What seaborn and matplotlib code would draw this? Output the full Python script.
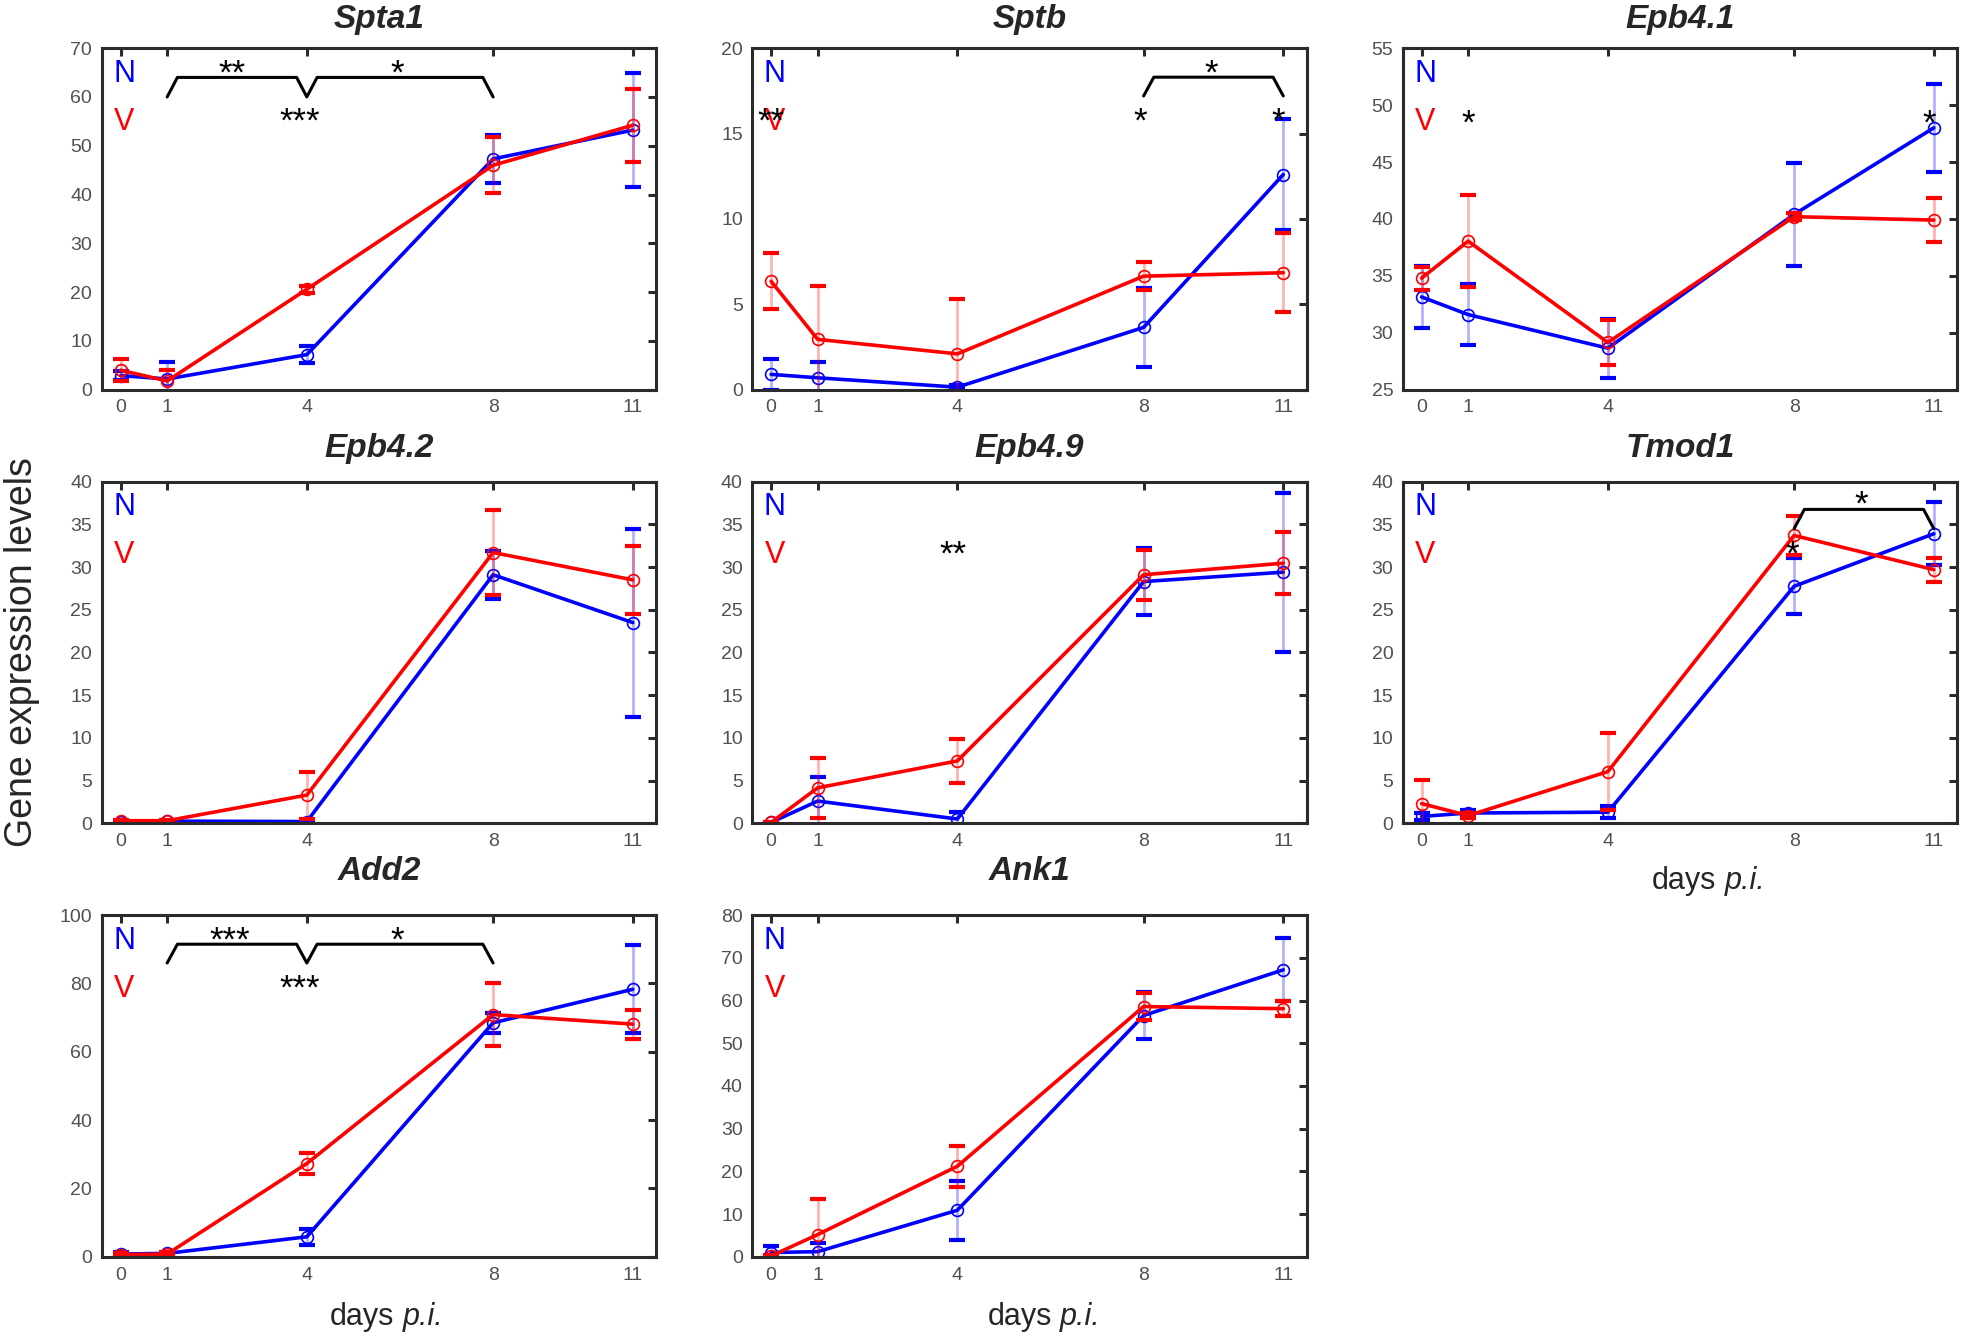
import numpy as np
import pandas as pd
import matplotlib
matplotlib.use('Agg')
import matplotlib.pyplot as plt
import seaborn as sns

# ---------- data ----------
days = [0, 1, 4, 8, 11]

spta1_n = [2.9, 2.2, 7.2, 47.3, 53.2]
spta1_n_err = [1.0, 3.5, 1.7, 4.9, 11.7]
spta1_v = [4.0, 1.8, 20.6, 46.0, 54.2]
spta1_v_err = [2.3, 2.3, 0.7, 5.7, 7.5]

sptb_n = [0.9, 0.7, 0.15, 3.65, 12.6]
sptb_n_err = [0.9, 0.9, 0.1, 2.3, 3.25]
sptb_v = [6.35, 2.95, 2.1, 6.65, 6.85]
sptb_v_err = [1.65, 3.1, 3.2, 0.8, 2.3]

epb41_n = [33.15, 31.6, 28.65, 40.4, 48.0]
epb41_n_err = [2.7, 2.65, 2.6, 4.5, 3.85]
epb41_v = [34.8, 38.05, 29.15, 40.2, 39.9]
epb41_v_err = [1.0, 4.05, 2.0, 0.3, 1.95]

epb42_n = [0.2, 0.25, 0.2, 29.1, 23.5]
epb42_n_err = [0.1, 0.1, 0.1, 2.8, 11.0]
epb42_v = [0.3, 0.3, 3.3, 31.7, 28.5]
epb42_v_err = [0.1, 0.1, 2.75, 5.0, 4.0]

epb49_n = [0.1, 2.6, 0.5, 28.3, 29.4]
epb49_n_err = [0.1, 2.8, 0.8, 3.9, 9.3]
epb49_v = [0.1, 4.15, 7.3, 29.1, 30.45]
epb49_v_err = [0.1, 3.5, 2.6, 2.9, 3.6]

tmod1_n = [0.8, 1.2, 1.3, 27.75, 33.9]
tmod1_n_err = [0.4, 0.3, 0.7, 3.3, 3.7]
tmod1_v = [2.3, 0.9, 6.05, 33.7, 29.7]
tmod1_v_err = [2.75, 0.3, 4.5, 2.3, 1.4]

add2_n = [0.8, 1.0, 5.85, 68.5, 78.3]
add2_n_err = [0.5, 0.5, 2.3, 2.9, 12.9]
add2_v = [0.6, 0.8, 27.3, 70.9, 68.1]
add2_v_err = [0.5, 0.5, 3.0, 9.3, 4.25]

ank1_n = [1.0, 1.2, 10.9, 56.5, 67.2]
ank1_n_err = [1.6, 2.1, 6.9, 5.4, 7.4]
ank1_v = [0.2, 5.2, 21.2, 58.6, 58.1]
ank1_v_err = [0.2, 8.4, 4.8, 3.1, 1.75]

genes = ['Spta1', 'Sptb', 'Epb4.1', 'Epb4.2', 'Epb4.9', 'Tmod1', 'Add2', 'Ank1']
n_vals = [spta1_n, sptb_n, epb41_n, epb42_n, epb49_n, tmod1_n, add2_n, ank1_n]
n_errs = [spta1_n_err, sptb_n_err, epb41_n_err, epb42_n_err, epb49_n_err, tmod1_n_err, add2_n_err, ank1_n_err]
v_vals = [spta1_v, sptb_v, epb41_v, epb42_v, epb49_v, tmod1_v, add2_v, ank1_v]
v_errs = [spta1_v_err, sptb_v_err, epb41_v_err, epb42_v_err, epb49_v_err, tmod1_v_err, add2_v_err, ank1_v_err]

y_limits = [(0, 70), (0, 20), (25, 55), (0, 40), (0, 40), (0, 40), (0, 100), (0, 80)]
y_steps = [10, 5, 5, 5, 5, 5, 20, 10]

# significance marks: (text, day, level)
stars = {
    'Spta1': [('**', 2.4, 66.8), ('*', 5.95, 66.8), ('***', 3.85, 57.0)],
    'Sptb': [('**', 0.0, 16.3), ('*', 7.93, 16.3), ('*', 10.9, 16.3), ('*', 9.45, 19.1)],
    'Epb4.1': [('*', 1.0, 49.3), ('*', 10.9, 49.3)],
    'Epb4.9': [('**', 3.9, 32.6)],
    'Tmod1': [('*', 9.45, 38.5), ('*', 7.95, 32.7)],
    'Add2': [('***', 2.35, 95.6), ('*', 5.95, 95.6), ('***', 3.85, 81.5)],
}
# brackets: (days joined, low level, high level)
brackets = {
    'Spta1': ([1, 4, 8], 60.0, 64.0),
    'Sptb': ([8, 11], 17.2, 18.3),
    'Tmod1': ([8, 11], 34.5, 36.75),
    'Add2': ([1, 4, 8], 86.0, 91.5),
}
# panels carrying the "days p.i." label: anchor (axes fraction) where "days" ends
xlabel_pos = {'Tmod1': (0.565, -0.192), 'Add2': (0.528, -0.201), 'Ank1': (0.54, -0.201)}
title_pads = [14.5, 18, 25]

# ---------- style ----------
sns.set_style('white')
plt.rcParams['font.family'] = ['Liberation Sans', 'DejaVu Sans']

BLUE = '#0000ff'
RED = '#ff0000'
SPINE = '#2b2b2b'
STAR_FS = 25


def draw_series(ax, y, err, color):
    df = pd.DataFrame({'day': days, 'value': y})
    sns.lineplot(data=df, x='day', y='value', ax=ax, color=color, lw=2.6,
                 marker='o', markersize=8.5, markerfacecolor='none',
                 markeredgecolor=color, markeredgewidth=1.2, legend=False)
    _, caps, bars = ax.errorbar(days, y, yerr=err, fmt='none', ecolor=color,
                                elinewidth=2.0, capsize=6, capthick=3)
    for b in bars:
        b.set_alpha(0.3)
    for c in caps:
        c.set_alpha(1)


def draw_bracket(ax, pts, lo, hi, d=0.22):
    xs, ys = [], []
    for a, b in zip(pts[:-1], pts[1:]):
        xs += [a, a + d, b - d, b]
        ys += [lo, hi, hi, lo]
    ax.plot(xs, ys, color='black', lw=2.2)


fig, axes = plt.subplots(3, 3, figsize=(19.61, 13.37), dpi=100)
plt.subplots_adjust(left=0.052, right=0.998, top=0.964, bottom=0.06,
                    wspace=0.174, hspace=0.269)
flat = axes.flatten()

for i, gene in enumerate(genes):
    ax = flat[i]
    draw_series(ax, n_vals[i], n_errs[i], BLUE)
    draw_series(ax, v_vals[i], v_errs[i], RED)

    lo, hi = y_limits[i]
    ax.set_ylim(lo, hi)
    ax.set_yticks(np.arange(lo, hi + 0.1, y_steps[i]))
    ax.set_xlim(-0.4, 11.5)
    ax.set_xticks(days)
    ax.set_xlabel('')
    ax.set_ylabel('')
    ax.set_title(gene, fontsize=24, fontweight='bold', style='italic',
                 pad=title_pads[i // 3])

    for s in ax.spines.values():
        s.set_linewidth(2.2)
        s.set_color(SPINE)
    ax.tick_params(direction='in', length=6, width=2.2, top=True, right=True,
                   color=SPINE, labelcolor='#505050', labelsize=14, pad=7)

    ax.text(0.04, 0.925, 'N', color=BLUE, fontsize=22, transform=ax.transAxes,
            ha='center', va='center')
    ax.text(0.04, 0.785, 'V', color=RED, fontsize=22, transform=ax.transAxes,
            ha='center', va='center')

    if gene in brackets:
        pts, blo, bhi = brackets[gene]
        draw_bracket(ax, pts, blo, bhi)
    for txt, sx, sy in stars.get(gene, []):
        ax.annotate(txt, (sx, sy), xytext=(0, -0.58 * STAR_FS), textcoords='offset points',
                    ha='center', va='baseline', fontsize=STAR_FS, color='black')

    if gene in xlabel_pos:
        lx, ly = xlabel_pos[gene]
        t = ax.text(lx, ly, 'days', transform=ax.transAxes, fontsize=22,
                    ha='right', va='baseline')
        ax.annotate('p.i.', xy=(1, 0), xycoords=t, xytext=(6, 0),
                    textcoords='offset points', fontsize=22, style='italic',
                    ha='left', va='bottom')

flat[8].axis('off')

fig.text(0.011, 0.512, 'Gene expression levels', rotation=90, fontsize=27,
         ha='center', va='center')

plt.savefig('out.png', dpi=100)
